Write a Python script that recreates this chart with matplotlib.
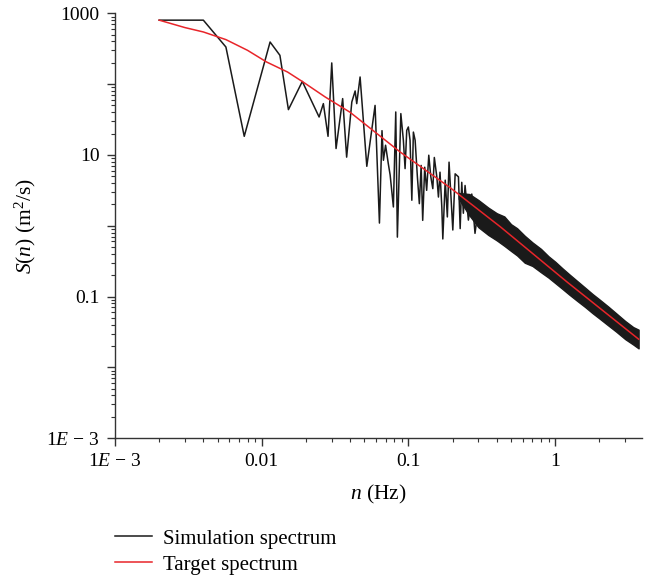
import matplotlib
matplotlib.use("Agg")
import matplotlib.pyplot as plt
from matplotlib.ticker import LogLocator, FixedLocator, FixedFormatter, NullFormatter
from matplotlib.lines import Line2D

plt.rcParams['font.family'] = ['Liberation Serif', 'DejaVu Serif']
plt.rcParams['mathtext.fontset'] = 'custom'
plt.rcParams['mathtext.rm'] = 'Liberation Serif'
plt.rcParams['mathtext.it'] = 'Liberation Serif:italic'
plt.rcParams['mathtext.bf'] = 'Liberation Serif:bold'

# Simulation spectrum: individually read points (low / mid frequency)
sim_n = [0.002, 0.004, 0.0057, 0.0076, 0.0114, 0.0133, 0.0152, 0.0189, 0.0246, 0.0263,
         0.0283, 0.030, 0.0321, 0.0356, 0.0379, 0.0411, 0.0433, 0.0444, 0.0468, 0.052,
         0.0592, 0.0634, 0.066, 0.0675, 0.0698, 0.0728, 0.075, 0.0789, 0.0819, 0.084,
         0.0887, 0.0923, 0.0948, 0.0973, 0.0998, 0.1025, 0.1054, 0.108, 0.111, 0.115,
         0.1186, 0.122, 0.125, 0.129, 0.133, 0.1375, 0.142, 0.1465, 0.150, 0.156,
         0.160, 0.164, 0.1687, 0.1714, 0.178, 0.184, 0.189, 0.2005, 0.208, 0.219,
         0.225, 0.2307, 0.2366, 0.243, 0.256, 0.270, 0.284, 0.299, 0.316, 0.333,
         0.351, 0.370, 0.389, 0.410, 0.432, 0.455, 0.480, 0.506, 0.533, 0.561]
sim_S = [800, 800, 334, 18.3, 393, 255, 43.6, 109, 34.3, 53,
         18.3, 199, 12.3, 62.4, 9.3, 55.9, 80, 53, 126, 6.9,
         50, 1.09, 22, 8.4, 13.7, 7.6, 5.2, 1.84, 40.4, 0.69,
         38.3, 16.1, 6.4, 22.2, 24.8, 16.1, 2.29, 21, 16.1, 4.9,
         2.05, 7.1, 1.19, 6.7, 3.16, 9.9, 4.9, 3.34, 9.2, 4.9,
         2.54, 5.7, 1.84, 0.65, 4.4, 1.33, 7.9, 0.87, 5.4, 4.9,
         0.91, 4.1, 1.5, 3.7, 1.2, 2.8, 0.78, 1.75, 1.2, 1.85,
         0.87, 1.4, 0.78, 1.33, 0.69, 1.13, 0.63, 0.5, 0.87, 0.39]

# Simulation spectrum: dense high-frequency band (upper / lower envelope)
band_n = [0.22, 0.26, 0.30, 0.35, 0.40, 0.45, 0.50, 0.55, 0.62, 0.70, 0.80, 0.90,
          1.0, 1.12, 1.25, 1.4, 1.6, 1.8, 2.0, 2.3, 2.6, 3.0, 3.4, 3.7]
band_hi = [2.9, 2.8, 2.3, 1.8, 1.5, 1.35, 1.05, 0.92, 0.72, 0.58, 0.47, 0.37,
           0.31, 0.25, 0.205, 0.168, 0.133, 0.108, 0.091, 0.072, 0.058, 0.045, 0.037, 0.034]
band_lo = [2.4, 1.4, 0.95, 0.74, 0.62, 0.52, 0.44, 0.38, 0.30, 0.27, 0.22, 0.185,
           0.155, 0.128, 0.106, 0.088, 0.071, 0.058, 0.049, 0.039, 0.032, 0.025, 0.021, 0.0185]

# Target spectrum
tgt_n = [0.002, 0.003, 0.004, 0.0057, 0.008, 0.0108, 0.015, 0.019, 0.027, 0.04,
         0.0877, 0.192, 0.424, 1.21, 3.7]
tgt_S = [800, 628, 545, 425, 300, 205, 148, 108, 66, 40,
         11, 3.45, 0.96, 0.159, 0.025]

x_ticks = [1e-3, 1e-2, 1e-1, 1]
x_labels = [r'1$\it{E}$ − 3', '0.01', '0.1', '1']
y_ticks = [1e-3, 1e-2, 1e-1, 1, 10, 100, 1000]
y_labels = [r'1$\it{E}$ − 3', '', '0.1', '', '10', '', '1000']

fig = plt.figure(figsize=(6.46, 5.78), dpi=100)
ax = fig.add_axes([0.178, 0.242, 0.816, 0.735])

ax.set_xscale('log')
ax.set_yscale('log')

ax.fill_between(band_n, band_lo, band_hi, color='#1a1a1a', lw=1.0, edgecolor='#1a1a1a', zorder=2)
ax.plot(sim_n, sim_S, color='#1a1a1a', lw=1.1, zorder=2)
ax.plot(tgt_n, tgt_S, color='#e8252a', lw=1.1, zorder=3)

ax.set_xlim(1e-3, 3.91)
ax.set_ylim(1e-3, 1000)

for s in ['top', 'right']:
    ax.spines[s].set_visible(False)
for s in ['left', 'bottom']:
    ax.spines[s].set_linewidth(1.0)
    ax.spines[s].set_color('#333333')

ax.xaxis.set_major_locator(FixedLocator(x_ticks))
ax.xaxis.set_major_formatter(FixedFormatter(x_labels))
ax.xaxis.set_minor_locator(LogLocator(base=10, subs=range(2, 10), numticks=20))
ax.xaxis.set_minor_formatter(NullFormatter())
ax.yaxis.set_major_locator(FixedLocator(y_ticks))
ax.yaxis.set_major_formatter(FixedFormatter(y_labels))
ax.yaxis.set_minor_locator(LogLocator(base=10, subs=range(2, 10), numticks=20))
ax.yaxis.set_minor_formatter(NullFormatter())

ax.tick_params(which='major', direction='out', length=6, width=1.0, color='#333333',
               labelsize=14, pad=5)
ax.tick_params(which='minor', direction='out', length=3, width=0.8, color='#333333')

ax.set_xlabel(r'$\it{n}$ (Hz)', fontsize=15.5, labelpad=9)
ax.set_ylabel(r'$\it{S}$($\it{n}$) (m$^{2}$/s)', fontsize=15.5, labelpad=6)

handles = [Line2D([], [], color='#1a1a1a', lw=1.1),
           Line2D([], [], color='#e8252a', lw=1.1)]
fig.legend(handles, ['Simulation spectrum', 'Target spectrum'],
           loc='upper left', bbox_to_anchor=(0.165, 0.099), frameon=False,
           fontsize=15, handlelength=1.8, handletextpad=0.5, labelspacing=0.3,
           borderaxespad=0)

fig.savefig('out.png', dpi=100)
